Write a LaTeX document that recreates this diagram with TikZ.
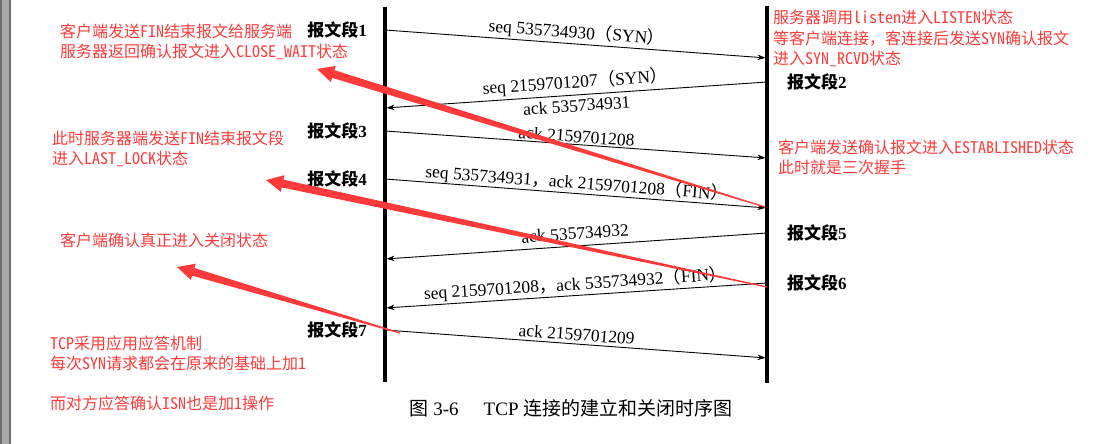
\documentclass[tikz,border=0pt]{standalone}
\usepackage{fontspec}
\setmainfont{Liberation Serif}
\newfontfamily\cjk{Noto Sans CJK SC}
\newfontfamily\notefont[RawFeature=+hwid]{Noto Sans CJK SC}
\usetikzlibrary{arrows.meta,positioning,calc}
\definecolor{notecolor}{RGB}{255,58,58}
\definecolor{framegray}{RGB}{168,168,168}
\definecolor{framedark}{RGB}{110,110,110}

% tapered red pointer: #1 tail, #2 tip
\newcommand{\taperarrow}[2]{%
    \coordinate (#1-base) at ($(#2)!17pt!(#1)$);
    \fill[notecolor] ($(#1)!0.6pt!90:(#2)$) -- ($(#1-base)!4pt!90:(#2)$) -- ($(#1-base)!8.5pt!90:(#2)$) -- (#2)
        -- ($(#1-base)!8.5pt!-90:(#2)$) -- ($(#1-base)!4pt!-90:(#2)$) -- ($(#1)!0.6pt!-90:(#2)$) -- cycle;
}

\begin{document}
\begin{tikzpicture}[
    x=1pt, y=-1pt,
    lifeline/.style={line width=3.5pt, black},
    msg/.style={-{Stealth[length=8pt,width=5.5pt]}, line width=0.9pt, shorten >=1.5pt},
    msglabel/.style={font=\fontsize{17.5}{20}\selectfont, sloped, above, inner sep=1.5pt, midway},
    seglabel/.style={font=\fontsize{17}{20}\selectfont\bfseries, inner sep=2pt},
    note/.style={font=\notefont\fontsize{16}{20}\selectfont, text=notecolor, align=left, anchor=base west, inner sep=0pt},
    caption/.style={font=\fontsize{19}{22}\selectfont}
]
\useasboundingbox (0,0) rectangle (1101,444);

% Left window frame
\fill[framegray] (0,0) rectangle (11,444);
\draw[framedark, line width=1.5pt] (1,0) -- (1,444);
\draw[framedark, line width=1.5pt] (10,0) -- (10,444);

% Lifelines
\coordinate (cli-top) at (385,7);
\coordinate (cli-bot) at (385,382);
\coordinate (srv-top) at (767,6);
\coordinate (srv-bot) at (767,383);
\draw[lifeline] (cli-top) -- (cli-bot);
\draw[lifeline] (srv-top) -- (srv-bot);

% Message end points
\coordinate (L1) at (385,30);  \coordinate (R1) at (767,58);
\coordinate (R2) at (767,82);  \coordinate (L2) at (385,108);
\coordinate (L3) at (385,131); \coordinate (R3) at (767,158);
\coordinate (L4) at (385,179); \coordinate (R4) at (767,208);
\coordinate (R5) at (767,233); \coordinate (L5) at (385,259);
\coordinate (R6) at (767,283); \coordinate (L6) at (385,308);
\coordinate (L7) at (385,330); \coordinate (R7) at (767,358);

% Handshake
\draw[msg] (L1) -- node[msglabel] {seq 535734930{\cjk （}SYN{\cjk ）}} (R1);
\draw[msg] (R2) -- node[msglabel, inner sep=3pt] {seq 2159701207{\cjk （}SYN{\cjk ）}}
    node[msglabel, below, inner sep=4pt] {ack 535734931} (L2);
\draw[msg] (L3) -- node[msglabel] {ack 2159701208} (R3);

% Teardown
\draw[msg] (L4) -- node[msglabel, inner sep=0.5pt] {seq 535734931{\cjk ，}ack 2159701208{\cjk （}FIN{\cjk ）}} (R4);
\draw[msg] (R5) -- node[msglabel, inner sep=6pt] {ack 535734932} (L5);
\draw[msg] (R6) -- node[msglabel] {seq 2159701208{\cjk ，}ack 535734932{\cjk （}FIN{\cjk ）}} (L6);
\draw[msg] (L7) -- node[msglabel, inner sep=3pt] {ack 2159701209} (R7);

% Segment labels
\node[seglabel, left=16pt of L1] (seg1) {{\cjk\bfseries 报文段}1};
\node[seglabel, right=18pt of R2] (seg2) {{\cjk\bfseries 报文段}2};
\node[seglabel, left=16pt of L3] (seg3) {{\cjk\bfseries 报文段}3};
\node[seglabel, left=16pt of L4] (seg4) {{\cjk\bfseries 报文段}4};
\node[seglabel, right=18pt of R5] (seg5) {{\cjk\bfseries 报文段}5};
\node[seglabel, right=18pt of R6] (seg6) {{\cjk\bfseries 报文段}6};
\node[seglabel, left=16pt of L7] (seg7) {{\cjk\bfseries 报文段}7};

% Caption
\node[caption] (caption) at (571,408) {{\cjk 图} 3-6\hspace{25pt}TCP {\cjk 连接的建立和关闭时序图}};

% Red notes (anchored on the baseline of the last line)
\node[note] (note-closewait) at (60,58) {客户端发送FIN结束报文给服务端\\服务器返回确认报文进入CLOSE\_WAIT状态};
\node[note] (note-lastack) at (52,164) {此时服务器端发送FIN结束报文段\\进入LAST\_LOCK状态};
\node[note] (note-closed) at (60,246) {客户端确认真正进入关闭状态};
\node[note] (note-isn) at (50,409) {TCP采用应用应答机制\\每次SYN请求都会在原来的基础上加1\\[20pt]而对方应答确认ISN也是加1操作};
\node[note, font=\notefont\fontsize{16}{20.8}\selectfont] (note-listen) at (773,65) {服务器调用listen进入LISTEN状态\\等客户端连接{\cjk ，}客连接后发送SYN确认报文\\进入SYN\_RCVD状态};
\node[note] (note-established) at (778,173) {客户端发送确认报文进入ESTABLISHED状态\\此时就是三次握手};

% Red pointers
\coordinate (t1) at (765,207); \coordinate (h1) at (317,69);
\coordinate (t2) at (767,287); \coordinate (h2) at (266,180);
\coordinate (t3) at (400,333); \coordinate (h3) at (177,267);
\taperarrow{t1}{h1}
\taperarrow{t2}{h2}
\taperarrow{t3}{h3}

\end{tikzpicture}
\end{document}
